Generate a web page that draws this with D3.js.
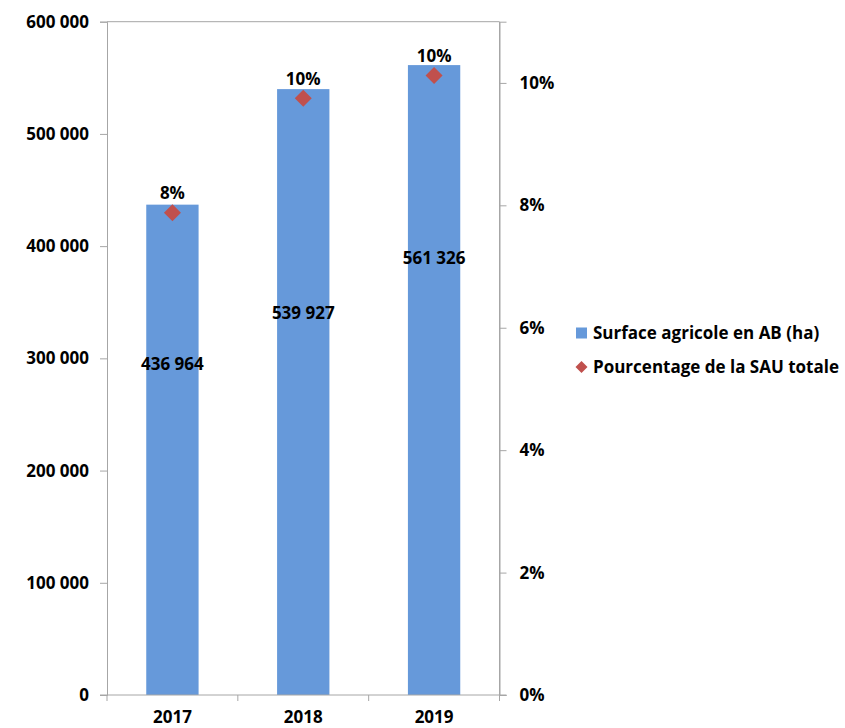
<!DOCTYPE html>
<html>
<head>
<meta charset="utf-8">
<script src="https://d3js.org/d3.v7.min.js"></script>
<style>
  body { margin: 0; background: #fff; }
  text { font-family: "Open Sans", sans-serif; font-weight: bold; fill: #000; }
</style>
</head>
<body>
<script>
// data
const years = ["2017", "2018", "2019"];
const surface = [436964, 539927, 561326];
const percent = [0.0788, 0.0975, 0.1012];
// where Excel left the bar value labels (in hectares on the left axis)
const labelAnchor = [295000, 340500, 389000];
const leftTicks = [0, 100000, 200000, 300000, 400000, 500000, 600000];
const rightTicks = [0, 0.02, 0.04, 0.06, 0.08, 0.10];
const legendNames = ["Surface agricole en AB (ha)", "Pourcentage de la SAU totale"];

const W = 845, H = 728;
const pLeft = 107, pRight = 499.5, pTop = 21.7, pBottom = 695;
const barColor = "#6699DA", diaColor = "#C0504D", axisColor = "#A6A6A6";

const svg = d3.select("body").append("svg").attr("width", W).attr("height", H);

const x = d3.scaleBand().domain(years).range([pLeft, pRight]).paddingInner(0.6).paddingOuter(0.3);
const yL = d3.scaleLinear().domain([0, 600000]).range([pBottom, pTop]);
const yR = d3.scaleLinear().domain([0, 0.11]).range([pBottom, pTop]);
const fmt = d => d3.format(",")(d).replace(/,/g, " ");

// plot border (top and right)
svg.append("path")
  .attr("d", `M${pLeft},${pTop}H${pRight}V${pBottom}`)
  .attr("fill", "none").attr("stroke", axisColor);

// bars
svg.append("g").selectAll("rect").data(surface).join("rect")
  .attr("x", (d, i) => x(years[i]))
  .attr("width", x.bandwidth())
  .attr("y", d => yL(d))
  .attr("height", d => pBottom - yL(d))
  .attr("fill", barColor);

// axes
const axL = svg.append("g").attr("transform", `translate(${pLeft},0)`)
  .call(d3.axisLeft(yL).tickValues(leftTicks).tickFormat(fmt).tickSizeOuter(0).tickSize(7).tickPadding(11));
const axR = svg.append("g").attr("transform", `translate(${pRight},0)`)
  .call(d3.axisRight(yR).tickValues(rightTicks).tickFormat(d3.format(".0%")).tickSizeOuter(0).tickSize(7).tickPadding(13));
const axB = svg.append("g").attr("transform", `translate(0,${pBottom})`);
axB.append("line").attr("x1", pLeft - 7).attr("x2", pRight + 7).attr("stroke", axisColor);
const edges = [pLeft].concat(years.slice(1).map(y => x(y) - x.step() * x.paddingInner() / 2)).concat([pRight]);
axB.selectAll("line.t").data(edges).join("line").attr("class", "t")
  .attr("x1", d => d).attr("x2", d => d).attr("y1", 0).attr("y2", 6).attr("stroke", axisColor);
axB.selectAll("text").data(years).join("text")
  .attr("x", d => x(d) + x.bandwidth() / 2).attr("y", 28)
  .attr("text-anchor", "middle").attr("font-size", 17).text(d => d);

[axL, axR].forEach(a => {
  a.select(".domain").attr("stroke", axisColor);
  a.selectAll(".tick line").attr("stroke", axisColor);
  a.selectAll(".tick text").attr("font-size", 17).attr("fill", "#000");
});

// bar value labels
svg.append("g").selectAll("text").data(surface).join("text")
  .attr("x", (d, i) => x(years[i]) + x.bandwidth() / 2)
  .attr("y", (d, i) => yL(labelAnchor[i]))
  .attr("dy", "0.35em")
  .attr("text-anchor", "middle").attr("font-size", 17)
  .text(d => fmt(d));

// diamonds
const diamond = s => `M0,${-s}L${s},0L0,${s}L${-s},0Z`;
svg.append("g").selectAll("path").data(percent).join("path")
  .attr("transform", (d, i) => `translate(${x(years[i]) + x.bandwidth() / 2},${yR(d)})`)
  .attr("d", diamond(8.5))
  .attr("fill", diaColor);
svg.append("g").selectAll("text").data(percent).join("text")
  .attr("x", (d, i) => x(years[i]) + x.bandwidth() / 2)
  .attr("y", d => yR(d) - 13.5)
  .attr("text-anchor", "middle").attr("font-size", 17)
  .text(d3.format(".0%"));

// legend
const leg = svg.append("g").attr("transform", "translate(576,333)");
leg.append("rect").attr("x", 0).attr("y", -5.5).attr("width", 11).attr("height", 11).attr("fill", barColor);
leg.append("path").attr("transform", "translate(5.5,34)").attr("d", diamond(6)).attr("fill", diaColor);
leg.selectAll("text").data(legendNames).join("text")
  .attr("x", 17).attr("y", (d, i) => i * 34).attr("dy", "0.35em")
  .attr("font-size", 17).text(d => d);
</script>
</body>
</html>
